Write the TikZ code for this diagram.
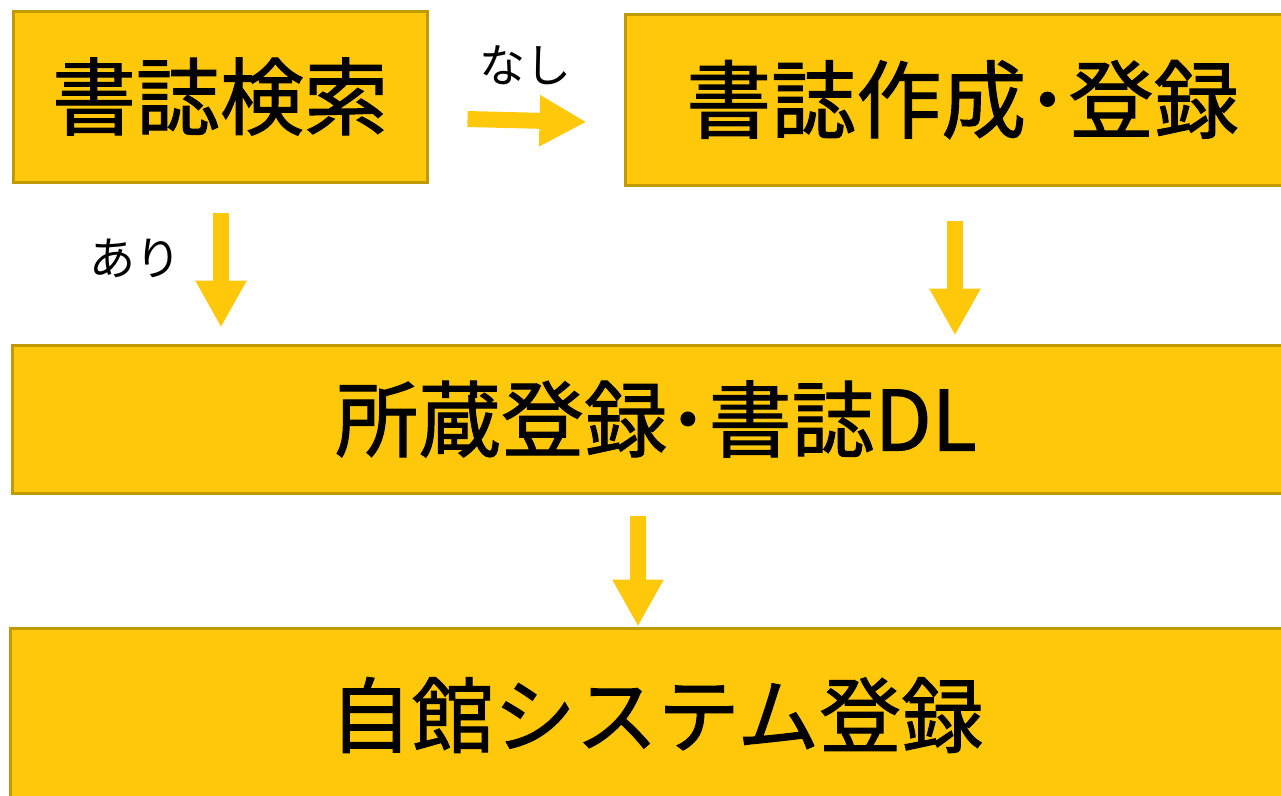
\documentclass[tikz,border=0pt]{standalone}
\usepackage{fontspec}
\newfontfamily\jp[FakeBold=1.2]{Noto Sans CJK JP}
\newfontfamily\jplbl{Noto Sans CJK JP}
\usetikzlibrary{arrows.meta}
\definecolor{boxfill}{RGB}{255,200,10}
\definecolor{boxline}{RGB}{192,154,0}
\tikzset{
  box/.style={draw=boxline, fill=boxfill, line width=3pt, inner sep=0pt, anchor=center},
  flow/.style={draw=boxfill, line width=16pt, -{Triangle[width=48pt,length=47pt]}},
  lbl/.style={font=\jplbl\fontsize{46}{46}\selectfont, inner sep=0pt}
}
\begin{document}
\begin{tikzpicture}[x=1pt,y=-1pt]
\useasboundingbox (0,0) rectangle (1281,795);
\clip (0,0) rectangle (1281,795);
\node[box, minimum width=414pt, minimum height=171pt, font=\jp\fontsize{84}{84}\selectfont] (search) at (220,96.5) {書誌検索};
\node[box, minimum width=675pt, minimum height=171pt, font=\jp\fontsize{85}{85}\selectfont] (create) at (962.5,99.5) {書誌作成･登録};
\node[box, minimum width=1288pt, minimum height=148pt, font=\jp\fontsize{83}{83}\selectfont] (hold) at (656,419) {所蔵登録･書誌DL};
\node[box, minimum width=1293pt, minimum height=174pt, font=\jp\fontsize{82}{82}\selectfont] (own) at (656.5,715) {自館システム登録};
\path (search.south) ++(1,29) coordinate (a1s);
\path (a1s) ++(0,115) coordinate (a1e);
\path (search.east) ++(39,22.5) coordinate (a0s);
\path (a0s) ++(119,3) coordinate (a0e);
\path (create.south) ++(-7.5,34) coordinate (a2s);
\path (a2s) ++(0,115) coordinate (a2e);
\path (hold.south) ++(-18,21) coordinate (a3s);
\draw[flow] (a0s) -- (a0e);
\draw[flow] (a1s) -- (a1e);
\draw[flow] (a2s) -- (a2e);
\draw[flow] (a3s) -- (a3s |- own.north);
\node[lbl] (nashi) at (525,65) {なし};
\node[lbl] (ari) at (135,258) {あり};
\end{tikzpicture}
\end{document}
